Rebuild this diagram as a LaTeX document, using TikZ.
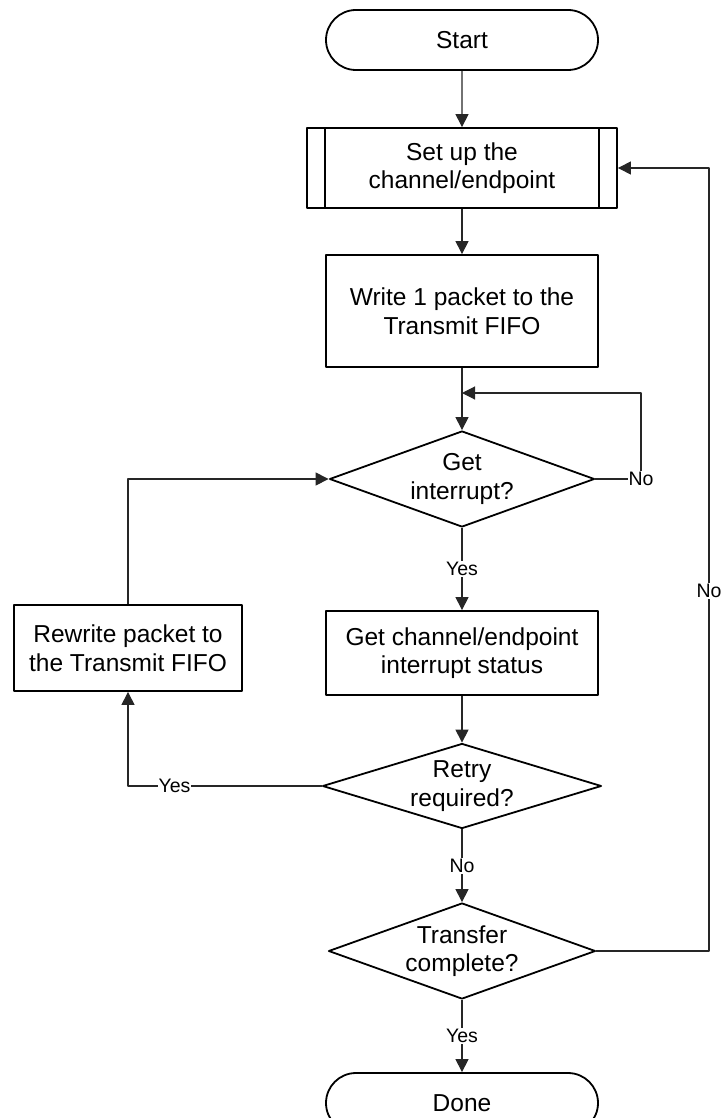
\documentclass[tikz,border=0pt]{standalone}
\usepackage{fontspec}
\setmainfont{Liberation Sans}
\usetikzlibrary{shapes.geometric,shapes.misc,arrows.meta}
\begin{document}
\begin{tikzpicture}[x=1pt,y=-1pt,line join=round,>={Triangle[length=13pt,width=13pt]},
	font=\fontsize{24.5}{28.5}\selectfont,
	term/.style={draw,line width=1.8pt,rounded rectangle,minimum width=272pt,minimum height=60pt,inner sep=0pt},
	proc/.style={draw,line width=1.8pt,rectangle,align=center,inner sep=0pt},
	decide/.style={draw,line width=1.8pt,diamond,aspect=2.77,align=center,inner sep=-2pt,minimum width=266pt,minimum height=96pt},
	flow/.style={->,line width=1.1pt,color=black!85},
	lbl/.style={fill=white,inner sep=1pt,text=black,font=\fontsize{19.5}{22}\selectfont}]
	\useasboundingbox (0,0) rectangle (720,1118);
	\node[term] (start) at (462,40) {Start};
	\node[proc,minimum width=310pt,minimum height=80pt] (setup) at (462,168) {Set up the\\channel/endpoint};
	\draw[line width=1.8pt] ([xshift=19pt]setup.north west) -- ([xshift=19pt]setup.south west)
		([xshift=-19pt]setup.north east) -- ([xshift=-19pt]setup.south east);
	\node[proc,minimum width=272pt,minimum height=112pt] (write) at (462,311) {Write 1 packet to the\\Transmit FIFO};
	\node[decide,minimum width=265pt] (getint) at (462,479) {Get\\interrupt?};
	\node[proc,minimum width=272pt,minimum height=84pt] (status) at (462,653) {Get channel/endpoint\\interrupt status};
	\node[proc,minimum width=228pt,minimum height=86pt] (rewrite) at (128,648) {Rewrite packet to\\the Transmit FIFO};
	\node[decide,aspect=3.28,minimum width=279pt,minimum height=85pt] (retry) at (462,786) {Retry\\required?};
	\node[decide,minimum width=267pt] (xfer) at (462,951) {Transfer\\complete?};
	\node[term] (done) at (462,1103) {Done};
	\coordinate (loopin) at (462,393);
	\coordinate (loopout) at (641,393);
	\coordinate (back) at (709,951);
	\draw[flow] (start) -- (setup);
	\draw[flow] (setup) -- (write);
	\draw[flow] (write) -- (getint);
	\draw[flow] (getint.east) -| node[lbl]{No} (loopout) -- (loopin);
	\draw[flow] (getint) -- node[lbl]{Yes} (status);
	\draw[flow] (status) -- (retry);
	\draw[flow] (retry.west) -| node[lbl,pos=0.38]{Yes} (rewrite.south);
	\draw[flow] (rewrite.north) |- (getint.west);
	\draw[flow] (retry) -- node[lbl]{No} (xfer);
	\draw[flow] (xfer.east) -- (back) |- node[lbl,pos=0.23]{No} (setup.east);
	\draw[flow] (xfer) -- node[lbl]{Yes} (done);
\end{tikzpicture}
\end{document}
